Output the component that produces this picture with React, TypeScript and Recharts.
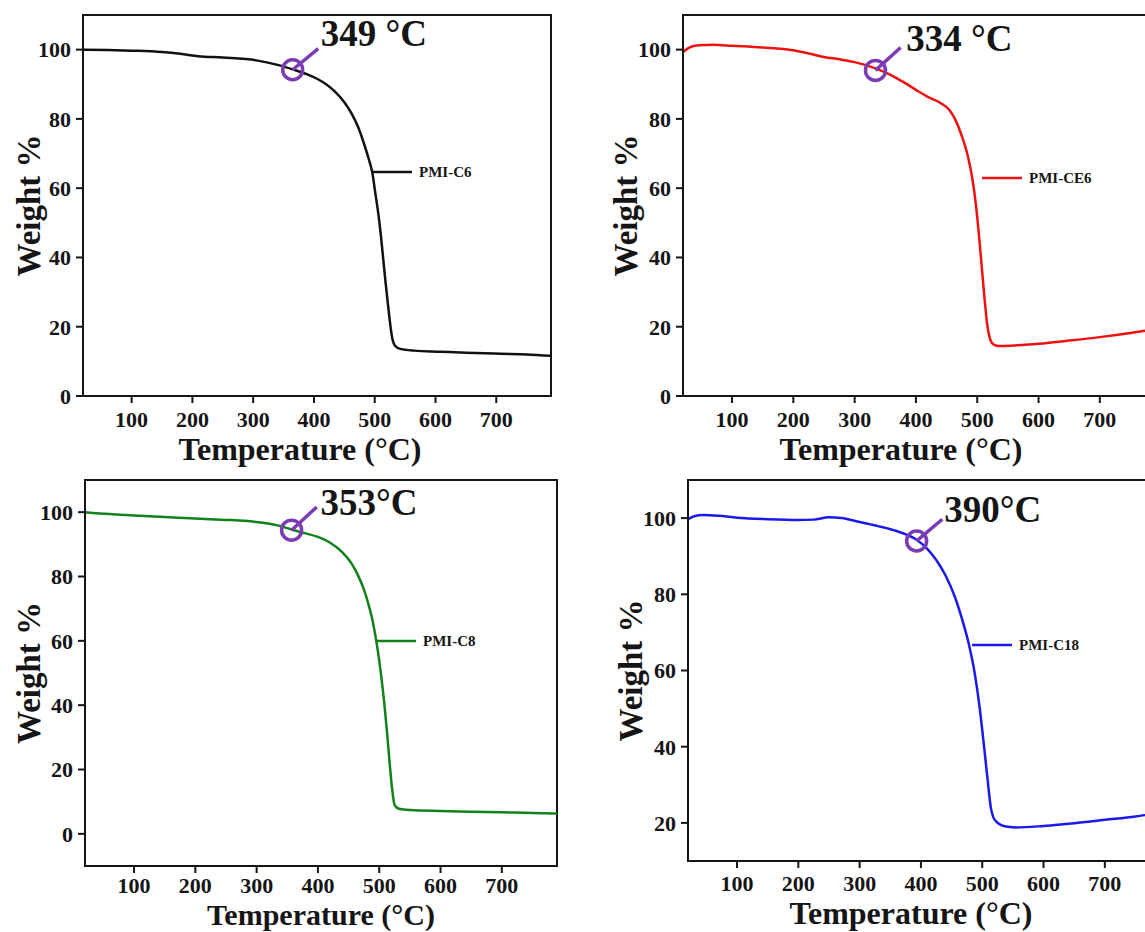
import React from 'react';
import {
  LineChart, Line, XAxis, YAxis, ReferenceArea, ReferenceDot, ReferenceLine, Legend,
} from 'recharts';

// TGA curves (temperature °C, weight %)
const c6Temp = [21, 60, 100, 150, 180, 210, 250, 305, 340, 365, 390, 405, 420, 435, 450, 462, 473, 482, 490, 496, 501, 506, 510, 514, 518, 522, 526, 529, 533, 542, 565, 608, 650, 707, 750, 790];
const c6Weight = [100, 99.9, 99.7, 99.3, 98.8, 98.1, 97.7, 96.9, 95.6, 94.3, 92.8, 91.6, 90, 87.8, 84.8, 81.5, 77.5, 73, 68.5, 64.5, 58.5, 52.5, 46.5, 39.5, 32.5, 26, 20, 16.5, 14.6, 13.6, 13.1, 12.8, 12.5, 12.2, 12, 11.6];

const ce6Temp = [21, 30, 45, 70, 100, 150, 200, 225, 250, 275, 300, 334, 360, 380, 400, 420, 440, 455, 465, 475, 485, 492, 498, 503, 508, 512, 516, 520, 524, 530, 540, 560, 600, 650, 700, 750, 790];
const ce6Weight = [99.4, 100.6, 101.3, 101.4, 101.1, 100.6, 99.8, 98.9, 97.9, 97.2, 96.4, 94.6, 92.6, 90.6, 88.4, 86.3, 84.6, 82.5, 79.5, 75, 69, 62.8, 55, 46, 36, 28, 21, 17, 15.3, 14.6, 14.4, 14.6, 15.1, 16, 17, 18.2, 19.3];

const c8Temp = [20, 60, 100, 150, 200, 250, 280, 310, 340, 357, 380, 400, 420, 440, 455, 465, 475, 483, 490, 496, 502, 508, 513, 517, 521, 525, 532, 550, 600, 650, 700, 750, 790];
const c8Weight = [100, 99.4, 99, 98.5, 98, 97.6, 97.3, 96.7, 95.6, 94.6, 93.4, 92.3, 90.5, 87.5, 84, 80.5, 76, 71, 65.5, 59, 51, 41, 31, 22, 14, 9, 7.8, 7.4, 7.1, 6.9, 6.7, 6.5, 6.3];

const c18Temp = [20, 30, 45, 70, 100, 150, 200, 225, 250, 270, 300, 330, 360, 393, 410, 425, 440, 455, 468, 478, 488, 496, 503, 509, 514, 518, 522, 530, 545, 555, 600, 650, 700, 750, 790];
const c18Weight = [99.7, 100.5, 100.8, 100.6, 100.1, 99.7, 99.5, 99.6, 100.2, 100, 99, 97.9, 96.6, 94.3, 92, 89, 85, 79.5, 73, 67, 59, 50, 40, 31, 24, 21.5, 20.5, 19.5, 18.9, 18.8, 19.2, 19.9, 20.8, 21.7, 22.8];

const seriesNames = ['PMI-C6', 'PMI-CE6', 'PMI-C8', 'PMI-C18'];
const onsetLabels = ['349 °C', '334 °C', '353°C', '390°C'];
// circled point on each curve, end of the pointer, and where the onset text sits
const markerT = [365, 334, 357, 393];
const markerW = [94.2, 94, 94.4, 94];
const arrowT = [407, 375, 398, 435];
const arrowW = [100.3, 100.6, 101.6, 99.7];
const textT = [411, 384, 404, 438];
const textW = [104.9, 103.5, 103.1, 102.4];

const xDomain = [20, 790];
const xTicks = [100, 200, 300, 400, 500, 600, 700];
const yDomains = [[0, 110], [0, 110], [-10, 110], [10, 110]];
const yTicks = [
  [0, 20, 40, 60, 80, 100],
  [0, 20, 40, 60, 80, 100],
  [0, 20, 40, 60, 80, 100],
  [20, 40, 60, 80, 100],
];

const zip = (ts: number[], ws: number[]) => ts.map((t, i) => ({ t, w: ws[i] }));
const curves = [zip(c6Temp, c6Weight), zip(ce6Temp, ce6Weight), zip(c8Temp, c8Weight), zip(c18Temp, c18Weight)];

const FONT = "'Liberation Serif', 'Times New Roman', serif";
const INK = '#151515';
const PURPLE = '#7b3bb3';
const colors = ['#111111', '#ee1111', '#11821a', '#1a1aee'];

const layout = [
  { left: 0, top: 0, width: 580, height: 470, mr: 29, yw: 83, xh: 74, tm: 8, yLab: 28, xLab: 10, xSize: 32, xShift: -17, legend: { left: 372, top: 163 } },
  { left: 600, top: 0, width: 580, height: 470, mr: 25, yw: 83, xh: 74, tm: 8, yLab: 25, xLab: 10, xSize: 32, xShift: -18, legend: { left: 382, top: 169 } },
  { left: 0, top: 465, width: 580, height: 467, mr: 23, yw: 85, xh: 66, tm: 4, yLab: 28, xLab: 7, xSize: 30, xShift: 0, legend: { left: 376, top: 167 } },
  { left: 600, top: 465, width: 580, height: 467, mr: 20, yw: 88, xh: 71, tm: 7, yLab: 30, xLab: 8, xSize: 32, xShift: -13, legend: { left: 372, top: 171 } },
];

const renderLegend = (props: any) => {
  const item = props.payload && props.payload[0];
  if (!item) return null;
  return (
    <div style={{
      display: 'flex', alignItems: 'center', fontFamily: FONT, fontWeight: 'bold', fontSize: 15, lineHeight: '18px', color: INK,
    }}
    >
      <svg width={40} height={6}><line x1={0} y1={3} x2={40} y2={3} stroke={item.color} strokeWidth={2.5} /></svg>
      <span style={{ marginLeft: 7 }}>{item.value}</span>
    </div>
  );
};

const tickStyle = { fontSize: 22, fontWeight: 'bold', fill: INK, fontFamily: FONT };

const Panel = ({ i }: { i: number }) => {
  const l = layout[i];
  const yd = yDomains[i];
  return (
    <div style={{ position: 'absolute', left: l.left, top: l.top }}>
      <LineChart width={l.width} height={l.height} data={curves[i]} margin={{ top: 15, right: l.mr, bottom: 0, left: 0 }}>
        <XAxis
          dataKey="t"
          type="number"
          domain={xDomain}
          ticks={xTicks}
          allowDataOverflow
          height={l.xh}
          tickSize={7}
          tickMargin={l.tm}
          axisLine={{ stroke: INK, strokeWidth: 2 }}
          tickLine={{ stroke: INK, strokeWidth: 2 }}
          tick={tickStyle}
          label={{
            value: 'Temperature (°C)', position: 'insideBottom', offset: l.xLab, dx: l.xShift, fontSize: l.xSize, fontWeight: 'bold', fill: INK, fontFamily: FONT,
          }}
        />
        <YAxis
          type="number"
          domain={yd}
          ticks={yTicks[i]}
          allowDataOverflow
          width={l.yw}
          tickSize={7}
          tickMargin={5}
          axisLine={{ stroke: INK, strokeWidth: 2 }}
          tickLine={{ stroke: INK, strokeWidth: 2 }}
          tick={tickStyle}
          label={{
            value: 'Weight %', angle: -90, position: 'insideLeft', offset: l.yLab, fontSize: 33, fontWeight: 'bold', fill: INK, fontFamily: FONT, style: { textAnchor: 'middle' },
          }}
        />
        <ReferenceArea x1={xDomain[0]} x2={xDomain[1]} y1={yd[0]} y2={yd[1]} fill="none" fillOpacity={0} stroke={INK} strokeWidth={2} />
        <Legend
          layout="vertical"
          align="center"
          verticalAlign="middle"
          content={renderLegend}
          wrapperStyle={{ left: l.legend.left, top: l.legend.top }}
        />
        <Line
          type="monotone"
          dataKey="w"
          name={seriesNames[i]}
          stroke={colors[i]}
          strokeWidth={2.5}
          dot={false}
          isAnimationActive={false}
        />
        <ReferenceLine
          segment={[{ x: markerT[i], y: markerW[i] }, { x: arrowT[i], y: arrowW[i] }]}
          stroke={PURPLE}
          strokeWidth={3.5}
        />
        <ReferenceDot x={markerT[i]} y={markerW[i]} r={10} fill="none" stroke={PURPLE} strokeWidth={3.5} />
        <ReferenceDot
          x={textT[i]}
          y={textW[i]}
          r={0}
          fill="none"
          stroke="none"
          label={{
            value: onsetLabels[i], position: 'right', offset: 0, fontSize: 37, fontWeight: 'bold', fill: INK, fontFamily: FONT,
          }}
        />
      </LineChart>
    </div>
  );
};

export default function App() {
  return (
    <div style={{
      position: 'absolute', left: 0, top: 0, width: 1145, height: 932, overflow: 'hidden', background: '#fff',
    }}
    >
      {[0, 1, 2, 3].map((i) => <Panel key={i} i={i} />)}
    </div>
  );
}
